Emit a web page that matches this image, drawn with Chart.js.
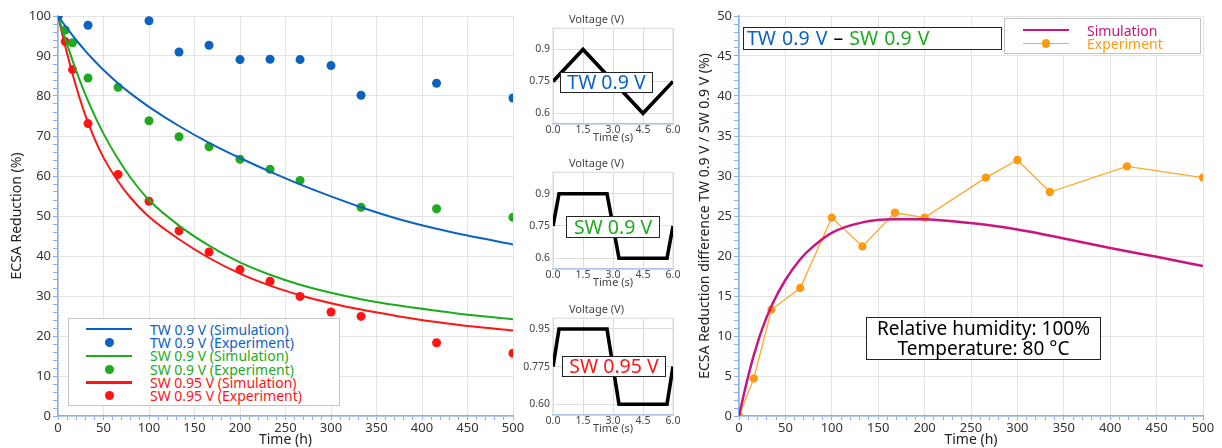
<!DOCTYPE html>
<html>
<head>
<meta charset="utf-8">
<script src="https://cdn.jsdelivr.net/npm/chart.js@4/dist/chart.umd.min.js"></script>
<style>
body { margin: 0; background: #fff; font-family: "Noto Sans", sans-serif; }
#page { position: relative; width: 1222px; height: 448px; overflow: hidden; }
canvas { position: absolute; }
.tag { position: absolute; box-sizing: border-box; background: #fff; border: 1.5px solid #222; font-size: 19.5px; white-space: nowrap; text-align: center; }
.legend { position: absolute; box-sizing: border-box; background: #fff; border: 1.5px solid #c4c4c4; }
.row { position: absolute; left: 0; right: 0; }
.sym-line { position: absolute; height: 2.5px; }
.sym-dot { position: absolute; border-radius: 50%; }
.row span { position: absolute; white-space: nowrap; }
</style>
</head>
<body>
<div id="page">
  <canvas id="main" width="530" height="448" style="left:0;top:0"></canvas>
  <canvas id="wave1" width="170" height="145" style="left:520px;top:0"></canvas>
  <canvas id="wave2" width="170" height="146" style="left:520px;top:144px"></canvas>
  <canvas id="wave3" width="170" height="146" style="left:520px;top:290px"></canvas>
  <canvas id="diff" width="532" height="448" style="left:690px;top:0"></canvas>

  <div class="tag" style="left:560px;top:72px;width:93px;height:21px;line-height:18px;color:#0b63c1">TW 0.9 V</div>
  <div class="tag" style="left:566px;top:216px;width:94px;height:22px;line-height:19px;color:#1eaa1e">SW 0.9 V</div>
  <div class="tag" style="left:562px;top:356px;width:104px;height:21px;line-height:18px;color:#ff1414">SW 0.95 V</div>

  <div class="tag" style="left:743px;top:27px;width:259px;height:23px;line-height:20px;text-align:left;padding-left:3px;word-spacing:1px"><span style="color:#0b63c1">TW 0.9 V</span> – <span style="color:#1eaa1e">SW 0.9 V</span></div>
  <div class="tag" style="left:866px;top:317px;width:235px;height:43px;font-size:19px;line-height:20px;padding-top:0px">Relative humidity: 100%<br>Temperature: 80 °C</div>

  <div class="legend" id="legMain" style="left:68px;top:318px;width:272px;height:88px"></div>
  <div class="legend" id="legDiff" style="left:1004px;top:18px;width:197px;height:36px"></div>
</div>
<script>
// left panel: ECSA reduction over time
const simTime = [0, 5, 10, 20, 30, 40, 50, 65, 80, 100, 133, 166, 200, 233, 266, 300, 333, 375, 416, 450, 500];
const tw09Sim = [100, 98.4, 96.9, 94, 91.3, 88.8, 86.5, 83.4, 80.6, 77.3, 72.5, 68.3, 64.5, 61.1, 57.9, 54.9, 52.2, 49.2, 46.8, 45.1, 42.9];
const sw09Sim = [100, 96.4, 92.9, 86.3, 80.4, 75.2, 70.6, 64.6, 59.5, 54, 47.6, 42.6, 38.4, 35.3, 32.8, 30.8, 29.2, 27.6, 26.3, 25.3, 24.2];
const sw095Sim = [100, 95.2, 90.6, 82.3, 75.2, 69.4, 64.6, 59, 54.5, 49.8, 44.2, 39.5, 35.6, 32.6, 30.2, 28.2, 26.6, 24.9, 23.5, 22.5, 21.4];

const expTime = [0, 8, 16, 33, 66, 100, 133, 166, 200, 233, 266, 300, 333, 416, 500];
const tw09Exp = [100, null, null, 97.7, null, 98.8, 91, 92.7, 89.1, 89.2, 89.1, 87.6, 80.2, 83.2, 79.5];
const sw09Exp = [100, 96.5, 93.3, 84.5, 82.2, 73.8, 69.8, 67.3, 64.2, 61.7, 58.9, null, 52.2, 51.8, 49.7];
const sw095Exp = [100, 93.6, 86.6, 73.1, 60.4, 53.7, 46.3, 41, 36.6, 33.7, 29.9, 26, 24.9, 18.3, 15.7];

// voltage cycles (insets)
const twCycleTime = [0, 1.5, 4.5, 6];
const twCycle = [0.75, 0.9, 0.6, 0.75];
const swCycleTime = [0, 0.3, 2.7, 3.3, 5.7, 6];
const sw09Cycle = [0.75, 0.9, 0.9, 0.6, 0.6, 0.75];
const sw095Cycle = [0.775, 0.95, 0.95, 0.6, 0.6, 0.775];
const cycleTicks = [0, 1.5, 3, 4.5, 6];
const vTicks09 = [0.6, 0.75, 0.9];
const vLabels09 = ['0.6', '0.75', '0.9'];
const vTicks095 = [0.6, 0.775, 0.95];
const vLabels095 = ['0.60', '0.775', '0.95'];

// right panel: difference TW 0.9 V / SW 0.9 V
const diffSimTime = [0, 5, 10, 16, 25, 36, 50, 66, 80, 100, 133, 166, 200, 233, 266, 300, 350, 400, 450, 500];
const diffSim = [0, 2.6, 5, 7.6, 10.9, 14, 17, 19.6, 21.2, 22.9, 24.2, 24.6, 24.6, 24.3, 23.9, 23.3, 22.2, 21, 19.9, 18.75];
const diffExpTime = [0, 16, 35, 66, 100, 133, 168, 200, 266, 300, 335, 418, 500];
const diffExp = [0, 4.7, 13.3, 16, 24.8, 21.2, 25.4, 24.8, 29.8, 32, 28, 31.2, 29.8];

const BLUE = '#0b63c1', GREEN = '#1eaa1e', RED = '#ff1414', MAGENTA = '#c8157f', ORANGE = '#ff9a10';
const AXIS_BLUE = '#86aef0';
const GRID = '#e4e4e4';
const FONT = 'Noto Sans';

const pairs = (xs, ys) => xs.map((x, i) => ({x: x, y: ys[i]})).filter(p => p.y !== null);

const simLine = (label, xs, ys, color) => ({
    label: label, data: pairs(xs, ys), borderColor: color, backgroundColor: color,
    borderWidth: 2, pointRadius: 0, cubicInterpolationMode: 'monotone'
});
const expDots = (label, xs, ys, color) => ({
    label: label, data: pairs(xs, ys), borderColor: color, backgroundColor: color,
    showLine: false, pointRadius: 4.5, pointBorderWidth: 0
});

const mainSeries = [
    simLine('TW 0.9 V (Simulation)', simTime, tw09Sim, BLUE),
    expDots('TW 0.9 V (Experiment)', expTime, tw09Exp, BLUE),
    simLine('SW 0.9 V (Simulation)', simTime, sw09Sim, GREEN),
    expDots('SW 0.9 V (Experiment)', expTime, sw09Exp, GREEN),
    simLine('SW 0.95 V (Simulation)', simTime, sw095Sim, RED),
    expDots('SW 0.95 V (Experiment)', expTime, sw095Exp, RED)
];

const majorGrid = step => ctx => (ctx.tick && Math.abs(ctx.tick.value % step) < 1e-6) ? GRID : 'rgba(0,0,0,0)';

const bigAxes = (yMax, yStep, yMajor, yTitle, yWidth, yTitlePad) => ({
    x: {
        type: 'linear', min: 0, max: 500,
        afterBuildTicks: s => { s.ticks = []; for (let v = 0; v <= 500; v += 10) s.ticks.push({value: v}); },
        ticks: { autoSkip: false, maxRotation: 0, padding: 0, color: '#333', font: {family: FONT, size: 13},
                 callback: v => v % 50 === 0 ? v : '' },
        grid: { color: majorGrid(50), tickColor: AXIS_BLUE, tickLength: 4 },
        border: { color: AXIS_BLUE, width: 1.5 },
        title: { display: true, text: 'Time (h)', color: '#222', font: {family: FONT, size: 14}, padding: 0 },
        afterFit: s => { s.height = 32; }
    },
    y: {
        min: 0, max: yMax,
        afterBuildTicks: s => { s.ticks = []; for (let v = 0; v <= yMax; v += yStep) s.ticks.push({value: v}); },
        ticks: { autoSkip: false, padding: 2, color: '#333', font: {family: FONT, size: 13},
                 callback: v => v % yMajor === 0 ? v : '' },
        grid: { color: majorGrid(yMajor), tickColor: AXIS_BLUE, tickLength: 5 },
        border: { color: AXIS_BLUE, width: 1.5 },
        title: { display: true, text: yTitle, color: '#222', font: {family: FONT, size: 14}, padding: {top: yTitlePad, bottom: 0} },
        afterFit: s => { s.width = yWidth; }
    }
});

new Chart(document.getElementById('main'), {
    type: 'line',
    data: { datasets: mainSeries },
    options: {
        responsive: false, animation: false,
        layout: { padding: {top: 16, right: 17} },
        plugins: { legend: {display: false}, tooltip: {enabled: false} },
        scales: bigAxes(100, 2, 10, 'ECSA Reduction (%)', 58, 9)
    }
});

// thin grey frame round the inset plots
const frame = {
    id: 'frame',
    beforeDatasetsDraw(chart) {
        const a = chart.chartArea, c = chart.ctx;
        c.save();
        c.strokeStyle = '#d8d8d8';
        c.lineWidth = 1;
        c.strokeRect(a.left, a.top, a.right - a.left, a.bottom - a.top);
        c.restore();
    }
};

const makeWave = (id, xs, ys, vTicks, vLabels) => new Chart(document.getElementById(id), {
    type: 'line',
    data: { datasets: [{ data: pairs(xs, ys), borderColor: '#000', borderWidth: 3.6, pointRadius: 0, tension: 0 }] },
    options: {
        responsive: false, animation: false,
        layout: { padding: {right: 17} },
        plugins: {
            legend: {display: false}, tooltip: {enabled: false},
            title: { display: true, text: 'Voltage (V)', color: '#444', font: {family: FONT, size: 11, weight: 'normal'}, padding: {top: 13, bottom: 2} }
        },
        scales: {
            x: {
                type: 'linear', min: 0, max: 6,
                afterBuildTicks: s => { s.ticks = cycleTicks.map(v => ({value: v})); },
                ticks: { autoSkip: false, maxRotation: 0, padding: 0, color: '#444', font: {family: FONT, size: 10.5},
                         callback: v => v.toFixed(1) },
                grid: { color: '#dcdcdc', drawTicks: false },
                border: { color: AXIS_BLUE, width: 1.5 },
                title: { display: true, text: 'Time (s)', color: '#444', font: {family: FONT, size: 11}, padding: {top: 0, bottom: 1} },
                afterFit: s => { s.height = 21; }
            },
            y: {
                min: 0.55, max: 1.0,
                afterBuildTicks: s => { s.ticks = vTicks.map(v => ({value: v})); },
                ticks: { autoSkip: false, padding: 3, color: '#444', font: {family: FONT, size: 10.5},
                         callback: (v, i) => vLabels[i] },
                grid: { color: '#dcdcdc', drawTicks: false },
                border: { color: '#dcdcdc' },
                afterFit: s => { s.width = 33; }
            }
        }
    },
    plugins: [frame]
});

makeWave('wave1', twCycleTime, twCycle, vTicks09, vLabels09);
makeWave('wave2', swCycleTime, sw09Cycle, vTicks09, vLabels09);
makeWave('wave3', swCycleTime, sw095Cycle, vTicks095, vLabels095);

const diffSeries = [
    { label: 'Simulation', data: pairs(diffSimTime, diffSim), borderColor: MAGENTA, backgroundColor: MAGENTA,
      borderWidth: 2.5, pointRadius: 0, cubicInterpolationMode: 'monotone' },
    { label: 'Experiment', data: pairs(diffExpTime, diffExp), borderColor: '#ffa62b', backgroundColor: ORANGE,
      borderWidth: 1.3, pointRadius: 4.2, pointBorderWidth: 0, tension: 0 }
];

new Chart(document.getElementById('diff'), {
    type: 'line',
    data: { datasets: diffSeries },
    options: {
        responsive: false, animation: false,
        layout: { padding: {top: 16, right: 19} },
        plugins: { legend: {display: false}, tooltip: {enabled: false} },
        scales: bigAxes(50, 1, 5, 'ECSA Reduction difference TW 0.9 V / SW 0.9 V (%)', 49, 7)
    }
});

// legends built from the series above
const buildLegend = (el, series, o) => {
    series.forEach((ds, i) => {
        const row = document.createElement('div');
        row.className = 'row';
        row.style.top = (o.top + i * o.step) + 'px';
        row.style.height = o.step + 'px';
        const isDots = ds.showLine === false;
        if (!isDots || o.lineWithDots) {
            const ln = document.createElement('div');
            ln.className = 'sym-line';
            ln.style.left = o.lineX0 + 'px';
            ln.style.width = (o.lineX1 - o.lineX0) + 'px';
            ln.style.top = (o.step / 2 - (ds.pointRadius > 0 ? 0.7 : 1.25)) + 'px';
            ln.style.height = (ds.pointRadius > 0 ? 1.4 : 2.5) + 'px';
            ln.style.background = ds.borderColor;
            row.appendChild(ln);
        }
        if (ds.pointRadius > 0) {
            const d = document.createElement('div');
            d.className = 'sym-dot';
            const r = o.dotR;
            d.style.width = d.style.height = (2 * r) + 'px';
            d.style.left = (o.dotX - r) + 'px';
            d.style.top = (o.step / 2 - r) + 'px';
            d.style.background = ds.backgroundColor;
            row.appendChild(d);
        }
        const t = document.createElement('span');
        t.textContent = ds.label;
        t.style.left = o.textX + 'px';
        t.style.top = '0px';
        t.style.lineHeight = o.step + 'px';
        t.style.fontSize = o.fontSize + 'px';
        t.style.color = ds.backgroundColor;
        row.appendChild(t);
        el.appendChild(row);
    });
};

buildLegend(document.getElementById('legMain'), mainSeries,
    { top: 3.5, step: 13.35, lineX0: 17, lineX1: 63, dotX: 40, dotR: 4.5, textX: 81, fontSize: 14, lineWithDots: false });
buildLegend(document.getElementById('legDiff'), diffSeries,
    { top: 4.5, step: 13.3, lineX0: 18, lineX1: 64, dotX: 41, dotR: 4.2, textX: 82, fontSize: 14, lineWithDots: true });
</script>
</body>
</html>
